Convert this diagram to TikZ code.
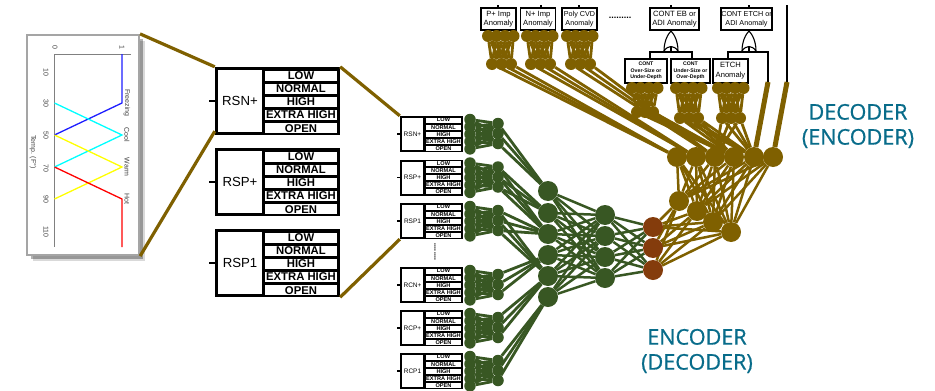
\documentclass[tikz,border=0pt]{standalone}
\usepackage{xcolor}
\usepackage{fontspec}
\setmainfont{Liberation Sans}
\newfontfamily\capfont[RawFeature={embolden=0.7}]{Open Sans}
\usetikzlibrary{positioning, calc, shadows, backgrounds}
\definecolor{mygreen}{RGB}{56,87,35}
\definecolor{mybrown}{RGB}{127,96,0}
\definecolor{myrust}{RGB}{132,60,12}
\definecolor{myteal}{RGB}{8,108,138}
\definecolor{mygray}{RGB}{165,165,165}
\definecolor{lineblue}{RGB}{30,30,255}
\definecolor{linecyan}{RGB}{0,255,255}
\definecolor{lineyellow}{RGB}{255,255,0}
\definecolor{linered}{RGB}{255,0,0}
\tikzset{
  panel/.style={rectangle, draw=mygray, fill=white, line width=2.2pt, inner sep=0pt,
    minimum width=112pt, minimum height=220pt,
    drop shadow={shadow xshift=6pt, shadow yshift=-6pt, fill=black, opacity=0.15},
    drop shadow={shadow xshift=4pt, shadow yshift=-4pt, fill=black, opacity=0.3}},
  chartlabel/.style={rotate=-90, inner sep=0pt, text=black!75, font=\fontsize{7}{8}\selectfont},
  chartline/.style={line width=1.3pt},
  blackbox/.style={rectangle, fill=black, inner sep=0pt},
  bigcell/.style={rectangle, fill=white, inner sep=0pt, minimum width=44pt, minimum height=62pt,
    font=\fontsize{13.2}{15}\selectfont},
  bigrow/.style={rectangle, fill=white, inner sep=0pt, minimum width=72pt, minimum height=10pt,
    font=\fontsize{11.3}{12}\selectfont\bfseries},
  smallcell/.style={rectangle, fill=white, inner sep=0pt, minimum width=21pt, minimum height=32pt,
    font=\fontsize{6.5}{8}\selectfont},
  smallrow/.style={rectangle, fill=white, inner sep=0pt, minimum width=35pt, minimum height=5pt,
    font=\fontsize{5.6}{6}\selectfont\bfseries},
  anobox/.style={rectangle, draw=black, fill=white, line width=1.4pt, inner sep=0pt, align=center,
    minimum height=22pt, font=\fontsize{7.6}{9}\selectfont},
  contbox/.style={rectangle, draw=black, fill=white, line width=1.4pt, inner sep=0pt, align=center,
    minimum height=24pt, font=\fontsize{5.2}{6.6}\selectfont\bfseries},
  stub/.style={draw=black, line width=1.3pt},
  wire/.style={draw=black, line width=1.4pt},
  greendot/.style={circle, fill=mygreen, inner sep=0pt, minimum size=11.5pt},
  greenbig/.style={circle, fill=mygreen, inner sep=0pt, minimum size=20pt},
  rustdot/.style={circle, fill=myrust, inner sep=0pt, minimum size=20pt},
  browndot/.style={circle, fill=mybrown, inner sep=0pt, minimum size=12pt},
  brownbig/.style={circle, fill=mybrown, inner sep=0pt, minimum size=20pt},
  greenlink/.style={draw=mygreen, line width=2.5pt},
  greenband/.style={draw=mygreen, line width=2.8pt},
  brownlink/.style={draw=mybrown, line width=2.5pt},
  brownband/.style={draw=mybrown, line width=2.8pt},
  brownfat/.style={draw=mybrown, line width=5pt},
  zoomline/.style={draw=mybrown, line width=3.2pt},
  heading/.style={text=myteal, align=center, inner sep=0pt,
    font=\capfont\fontsize{21.6}{25}\selectfont}
}
\newcommand{\orgate}[1]{
  \draw[black, fill=white, line width=1.1pt]
    ($(#1)+(-7,0)$) .. controls ($(#1)+(-7,-10)$) and ($(#1)+(-3,-17)$) .. ($(#1)+(0,-20)$)
    .. controls ($(#1)+(3,-17)$) and ($(#1)+(7,-10)$) .. ($(#1)+(7,0)$)
    .. controls ($(#1)+(3,-6)$) and ($(#1)+(-3,-6)$) .. cycle;
}

\begin{document}
\begin{tikzpicture}[x=1pt, y=-1pt]
  \useasboundingbox (0,0) rectangle (935,391);

  % Membership chart (left)
  \node[panel] (chart) at (83,145) {};
  \draw[black!50, line width=0.8pt] (131,54) -- (54.5,54) -- (54.5,247);
  \draw[chartline, lineblue] (122,54) -- (122,103) -- (54.5,135);
  \draw[chartline, linecyan] (54.5,103) -- (122,135) -- (54.5,167);
  \draw[chartline, lineyellow] (54.5,135) -- (122,167) -- (54.5,199);
  \draw[chartline, linered] (54.5,167) -- (122,199) -- (122,247);
  \node[chartlabel] (axis0) at (55,47) {0};
  \node[chartlabel] (axis1) at (122,47) {1};
  \foreach \val/\ypos in {10/72, 30/103, 50/135, 70/168, 90/199, 110/232}{
    \node[chartlabel] (tick\val) at (46,\ypos) {\val};
  }
  \node[chartlabel] (temp) at (33,152) {Temp. (F°)};
  \node[chartlabel] (freezing) at (127,103) {Freezing};
  \node[chartlabel] (cool) at (127,135) {Cool};
  \node[chartlabel] (warm) at (127,167) {Warm};
  \node[chartlabel] (hot) at (127,199) {Hot};

  % Large input blocks
  \foreach \nm/\lab/\ytop in {rsnp/RSN+/67, rspp/RSP+/148, rspo/RSP1/229}{
    \node[blackbox, minimum width=125pt, minimum height=68pt] (big\nm) at (277.5,{\ytop+34}) {};
    \node[bigcell] (cell\nm) at (240,{\ytop+34}) {\lab};
    \foreach \txt [count=\k] in {LOW, NORMAL, HIGH, EXTRA HIGH, OPEN}{
      \node[bigrow] (big\nm-\k) at (301,{\ytop+8.5+(\k-1)*13.2}) {\txt};
    }
    \draw[stub, line width=2.4pt] (big\nm.west) -- ++(-6,0);
  }

  % Small input blocks
  \foreach \nm/\lab/\ytop in {rsnp/RSN+/116, rspp/RSP+/159.5, rspo/RSP1/203, rcnp/RCN+/267, rcpp/RCP+/310, rcpo/RCP1/353}{
    \node[blackbox, minimum width=63pt, minimum height=36pt] (\nm) at (431.5,{\ytop+18}) {};
    \node[smallcell] (scell\nm) at (412.5,{\ytop+18}) {\lab};
    \foreach \txt [count=\k] in {LOW, NORMAL, HIGH, EXTRA HIGH, OPEN}{
      \node[smallrow] (\nm-\k) at (443.5,{\ytop+4+(\k-1)*7.1}) {\txt};
      \node[greendot] (\nm-in\k) at (470,{\ytop+3.5+(\k-1)*7.35}) {};
    }
    \foreach \j in {1,2,3}{
      \node[greendot] (\nm-hid\j) at (498,{\ytop+7.5+(\j-1)*10}) {};
    }
    \draw[stub] (\nm.west) -- ++(-3,0);
  }
  \node[rotate=90, inner sep=0pt, font=\fontsize{8}{9}\selectfont\bfseries] (moredots) at (435,252) {........};

  % Encoder layers
  \foreach \ypos [count=\k] in {191,213,234,255,276,297}{
    \node[greenbig] (enca\k) at (548,\ypos) {};
  }
  \foreach \ypos [count=\k] in {215,236,257,278}{
    \node[greenbig] (encb\k) at (605,\ypos) {};
  }
  \foreach \ypos [count=\k] in {227,248,270}{
    \node[rustdot] (code\k) at (653,\ypos) {};
  }

  % Decoder layers
  \foreach \xpos/\ypos [count=\k] in {679/201, 697/211, 713/222, 731/232}{
    \node[brownbig] (deca\k) at (\xpos,\ypos) {};
  }
  \foreach \xpos [count=\k] in {677,696,715,734,754,773}{
    \node[brownbig] (decb\k) at (\xpos,157) {};
  }

  % Anomaly boxes (top)
  \node[anobox, minimum width=35pt] (pimp) at (498.5,19) {P+ Imp\\Anomaly};
  \node[anobox, minimum width=35pt] (nimp) at (538,19) {N+ Imp\\Anomaly};
  \node[anobox, minimum width=35pt, font=\fontsize{7.2}{9}\selectfont] (poly) at (579.5,19) {Poly CVD\\Anomaly};
  \node[anobox, minimum width=49pt] (contEB) at (674.5,19) {CONT EB or\\ADI Anomaly};
  \node[anobox, minimum width=51pt, font=\fontsize{7.2}{9}\selectfont] (contETCH) at (746.5,19) {CONT ETCH or\\ADI Anomaly};
  \node[contbox, minimum width=42pt] (over) at (646,71) {CONT\\Over-Size or\\Under-Depth};
  \node[contbox, minimum width=39pt] (under) at (690.5,71) {CONT\\Under-Size or\\Over-Depth};
  \node[anobox, minimum width=35pt, minimum height=24pt, font=\fontsize{7.6}{10}\selectfont] (etch) at (730.5,71) {ETCH\\Anomaly};
  \node[inner sep=0pt, font=\fontsize{9}{10}\selectfont\bfseries] (dotsrow) at (620,18) {.........};
  \foreach \nm/\xpos in {pimp/498, nimp/541, poly/579, contEB/671, contETCH/749}{
    \coordinate (top\nm) at (\xpos,5);
    \draw[stub] (top\nm) -- (top\nm |- \nm.north);
  }

  % Brown dots under the boxes
  \foreach \nm/\xa/\xb/\ya/\yb/\stp in {pimp/488/492/36/64/9.5, nimp/527/531/36/64/9.5, poly/567/571/36/64/9.5, over/632/637/88/112/8, under/676/680/88/118/9, etch/718/722/88/118/9}{
    \foreach \i in {1,2,3,4}{
      \node[browndot] (\nm-up\i) at ({\xa+(\i-1)*8.5},\ya) {};
    }
    \foreach \j in {1,2,3}{
      \node[browndot] (\nm-lo\j) at ({\xb+(\j-1)*\stp},\yb) {};
    }
  }

  % Gates and wires
  \coordinate (ebjoin) at (671,52);
  \coordinate (ebleft) at (650,52);
  \coordinate (ebright) at (692,52);
  \coordinate (etchjoin) at (749,52);
  \coordinate (etchleft) at (728,52);
  \coordinate (etchright) at (768,52);
  \coordinate (etchend) at (768,82);
  \coordinate (railtop) at (787,5);
  \coordinate (railend) at (787,82);
  \draw[wire] (contEB.south -| ebjoin) -- (ebjoin);
  \draw[wire] (contETCH.south -| etchjoin) -- (etchjoin);
  \draw[wire] (over.north -| ebleft) -- (ebleft) -- (ebright) -- (under.north -| ebright);
  \draw[wire] (etch.north -| etchleft) -- (etchleft) -- (etchright) -- (etchend);
  \draw[wire] (railtop) -- (railend);
  \orgate{671,51}
  \orgate{749,51}

  % Connections
  \begin{scope}[on background layer]
    \foreach \nm in {rsnp,rspp,rspo,rcnp,rcpp,rcpo}{
      \foreach \i in {1,...,5}{
        \foreach \j in {1,2,3}{
          \draw[greenband] (\nm-in\i) -- (\nm-hid\j);
        }
      }
    }
    \foreach \nm/\k in {rsnp/1, rspp/2, rspp/3, rspo/3, rspo/5, rcnp/4, rcpp/5, rcpo/6}{
      \foreach \j in {1,2,3}{
        \draw[greenband] (\nm-hid\j) -- (enca\k);
      }
    }
    \foreach \i in {1,...,6}{
      \foreach \j in {1,...,4}{
        \draw[greenlink] (enca\i) -- (encb\j);
      }
    }
    \foreach \i in {1,...,4}{
      \foreach \j in {1,2,3}{
        \draw[greenlink] (encb\i) -- (code\j);
        \draw[brownlink] (code\j) -- (deca\i);
      }
      \foreach \j in {1,...,6}{
        \draw[brownlink] (deca\i) -- (decb\j);
      }
    }
    \foreach \nm in {pimp,nimp,poly,over,under,etch}{
      \foreach \i in {1,2,3,4}{
        \foreach \j in {1,2,3}{
          \draw[brownband] (\nm-up\i) -- (\nm-lo\j);
        }
      }
    }
    \foreach \nm/\k in {pimp/1, nimp/2, poly/3, over/4, under/4, under/5, etch/3, etch/5}{
      \foreach \j in {1,2,3}{
        \draw[brownband] (\nm-lo\j) -- (decb\k);
      }
    }
  \end{scope}
  \draw[brownfat] (etchend) -- (decb5);
  \draw[brownfat] (railend) -- (decb6);

  % Callout lines
  \draw[zoomline] (chart.north east) -- (bigrsnp.north west);
  \draw[zoomline] (chart.south east) -- ($(bigrsnp.south west)+(0,-4)$);
  \draw[zoomline] (bigrsnp.north east) -- (rsnp.north west);
  \draw[zoomline] (bigrspo.south east) -- (rspo.south west);

  % Headings
  \node[heading] (decoder) at (858,126) {DECODER\\(ENCODER)};
  \node[heading] (encoder) at (697,351) {ENCODER\\(DECODER)};
\end{tikzpicture}
\end{document}
